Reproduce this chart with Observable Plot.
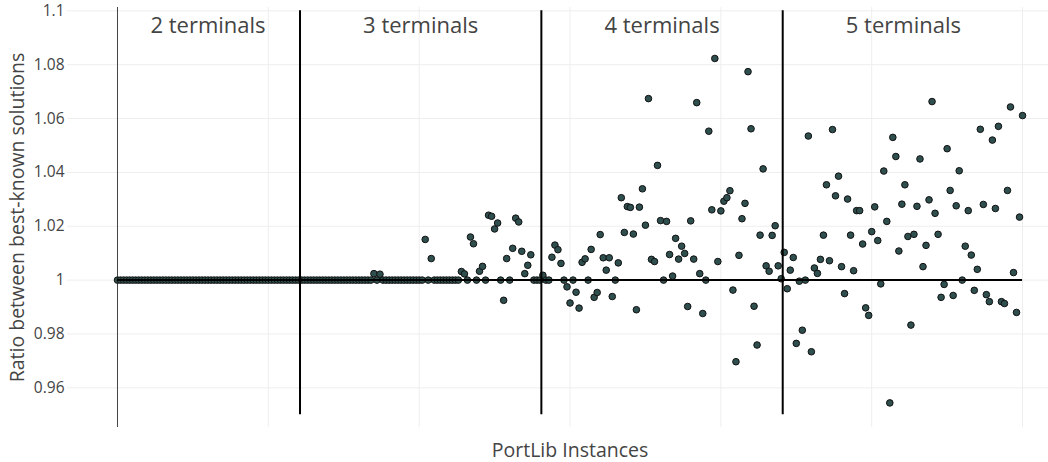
<!DOCTYPE html>
<html><head><meta charset="utf-8">
<script src="https://cdn.jsdelivr.net/npm/d3@7"></script>
<script src="https://cdn.jsdelivr.net/npm/@observablehq/plot@0.6"></script>
<style>html,body{margin:0;padding:0;background:#fff;} #chart svg{display:block;}</style>
</head><body><div id="chart"></div>
<script>
const sectionLabels = ["2 terminals", "3 terminals", "4 terminals", "5 terminals"];

const terminals2 = [
  1,1,1,1,1,1,1,1,1,1,
  1,1,1,1,1,1,1,1,1,1,
  1,1,1,1,1,1,1,1,1,1,
  1,1,1,1,1,1,1,1,1,1,
  1,1,1,1,1,1,1,1,1,1,
  1,1,1,1,1,1,1,1,1,1,
  1
];
const terminals3 = [
  1,1,1,1,1,1,1,1,1,1,
  1,1,1,1,1,1,1,1,1,1,
  1,1,1,1,1.0024,1,1.0022,1,1,1,
  1,1,1,1,1,1,1,1,1,1,
  1,1.0151,1,1.008,1,1,1,1,1,1,
  1,1,1,1.0032,1.0023,1,1.016,1.0135,1,1.0033,
  1.0051,1,1.0241,1.0237,1.019,1.0212,1,0.9925,1.008,1,
  1.0118,1.023,1.0216,1.0107,1.0024,1.0055,1.0094,1,1,1
];
const terminals4 = [
  1.0018,1,1,1.0085,1.013,1.0113,1.0062,1,0.9975,0.9915,
  1,0.9955,0.9896,1.0066,1.0079,1,1.0114,0.9936,0.9954,1.0169,
  1.0083,1.0037,1.0083,0.9939,1,1.0064,1.0306,1.0177,1.0273,1.027,
  1.0171,0.989,1.0271,1.0339,1.0204,1.0674,1.0077,1.0069,1.0426,1.0221,
  1,1.0218,1.0095,1.0015,1.0155,1.0078,1.0126,1.0099,0.9902,1.022,
  1.0078,1.0659,1.0024,0.9876,1,1.0553,1.0261,1.0823,1.0069,1.0257,
  1.0293,1.0306,1.0332,0.9963,0.9697,1.0092,1.0228,1.0285,1.0774,1.0562,
  0.9903,0.9759,1.0167,1.0413,1.0053,1.0033,1.0166,1.0202,1.0053,1.0005
];
const terminals5 = [
  1.0103,0.9968,1.0037,1.0084,0.9765,0.9996,0.9814,1,1.0535,0.9734,
  1.0045,1.0025,1.0077,1.0167,1.0354,1.0072,1.0559,1.0313,1.0386,1.005,
  0.995,1.0301,1.0167,1.0035,1.0258,1.0258,1.0134,0.9897,0.9869,1.018,
  1.0272,1.0147,0.9986,1.0405,1.0218,0.9544,1.053,1.0459,1.0108,1.0282,
  1.0354,1.0162,0.9833,1.017,1.0274,1.045,1.005,1.0129,1.0298,1.0663,
  1.0248,1.017,0.9936,0.9984,1.0488,1.0333,0.9943,1.0276,1.0406,1,
  1.0126,1.0258,1.0093,0.9962,1.004,1.056,1.0281,0.9946,0.992,1.052,
  1.0266,1.0571,0.992,0.9913,1.0333,1.0643,1.0028,0.988,1.0234,1.0611
];

const yTicks = [0.96, 0.98, 1, 1.02, 1.04, 1.06, 1.08, 1.1];
const yTickLabels = ["0.96", "0.98", "1", "1.02", "1.04", "1.06", "1.08", "1.1"];
const xGrid = [0, 50, 100, 150, 200, 250, 300];
const refRatio = 1;
const yTitle = "Ratio between best-known solutions";
const xTitle = "PortLib Instances";

const sections = [terminals2, terminals3, terminals4, terminals5];
const points = [];
const bounds = [];
let idx = 0;
sections.forEach((vals, s) => {
  const start = idx;
  vals.forEach(v => points.push({i: idx++, r: v}));
  bounds.push({start, end: idx - 1, label: sectionLabels[s]});
});
const lastIdx = idx - 1;
const dividers = bounds.slice(0, -1).map(b => b.end + 0.5);
const labelPos = bounds.map(b => ({x: (b.start - 0.5 + b.end + 0.5) / 2, label: b.label}));

const font = "'Open Sans', sans-serif";
const chart = Plot.plot({
  width: 1048, height: 462,
  marginLeft: 67, marginRight: 0, marginTop: 7, marginBottom: 35,
  style: {fontFamily: font, color: "#444", background: "#fff", overflow: "visible"},
  x: {domain: [-16.57, 308.6], axis: null},
  y: {domain: [0.94527, 1.10123], axis: null},
  marks: [
    Plot.ruleY(yTicks, {stroke: "#eee", strokeWidth: 1}),
    Plot.ruleX(xGrid, {stroke: "#eee", strokeWidth: 1}),
    Plot.ruleX([0], {stroke: "#444", strokeWidth: 1}),
    Plot.axisY(yTicks, {
      anchor: "left", tickSize: 0, tickPadding: 3, fontSize: 15.5, label: null,
      tickFormat: d => yTickLabels[yTicks.indexOf(d)], fill: "#444"
    }),
    Plot.dot(points, {x: "i", y: "r", r: 3.3, fill: "#2f4f4f", stroke: "#111", strokeWidth: 1}),
    Plot.ruleY([refRatio], {x1: 0, x2: lastIdx, stroke: "#000", strokeWidth: 2}),
    Plot.ruleX(dividers, {y1: 0.95, y2: 1.1, stroke: "#000", strokeWidth: 2}),
    Plot.text(labelPos, {x: "x", y: 1.0945, text: "label", fontSize: 22, fill: "#444", lineAnchor: "middle"}),
    Plot.text([yTitle], {text: d => d, frameAnchor: "left", textAnchor: "middle", dx: -50, rotate: -90, fontSize: 19.5, fill: "#444", lineAnchor: "middle"}),
    Plot.text([xTitle], {text: d => d, x: 150, frameAnchor: "bottom", textAnchor: "middle", dy: 23, fontSize: 19.5, fill: "#444", lineAnchor: "middle"})
  ]
});
document.getElementById("chart").appendChild(chart);
</script>
</body></html>
